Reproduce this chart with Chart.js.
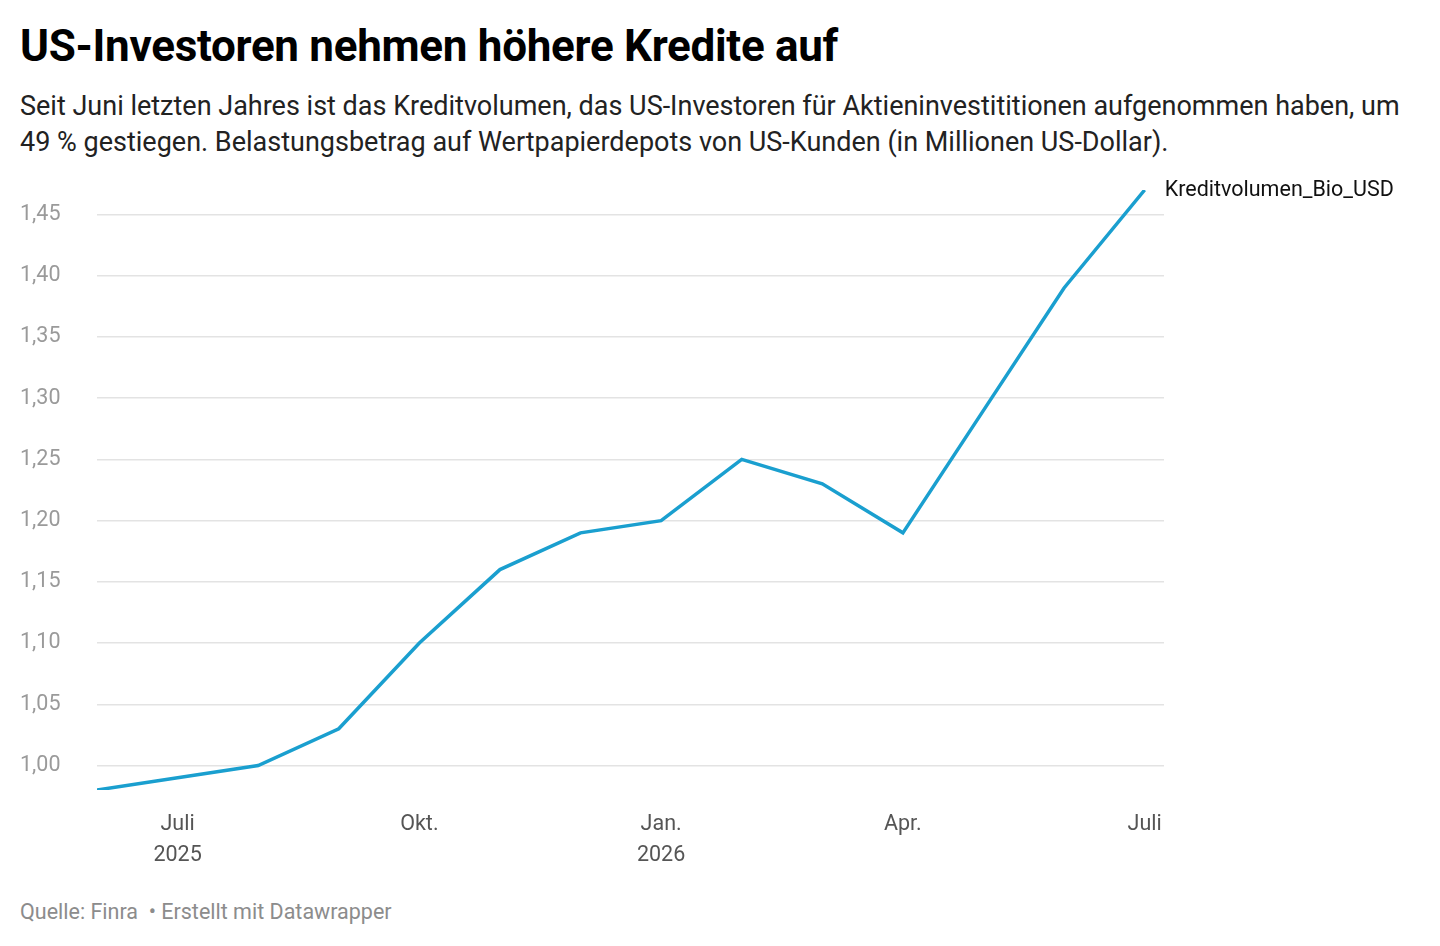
<!DOCTYPE html>
<html><head><meta charset="utf-8">
<script src="https://cdn.jsdelivr.net/npm/chart.js@4"></script>
<style>
body{margin:0;background:#fff;font-family:Roboto,sans-serif;width:1440px;height:946px;position:relative;overflow:hidden}
h1{position:absolute;left:20px;top:20px;margin:0;font-size:44px;font-weight:700;color:#000;letter-spacing:-0.3px}
.sub{position:absolute;left:20px;top:88px;font-size:27px;line-height:36px;color:#222;width:1395px}
.src{position:absolute;left:20px;top:899px;font-size:21.5px;color:#8c8c8c}
#wrap{position:absolute;left:0;top:170px;width:1440px;height:700px}
</style></head><body>
<h1>US-Investoren nehmen höhere Kredite auf</h1>
<div class="sub">Seit Juni letzten Jahres ist das Kreditvolumen, das US-Investoren für Aktieninvestititionen aufgenommen haben, um 49 % gestiegen. Belastungsbetrag auf Wertpapierdepots von US-Kunden (in Millionen US-Dollar).</div>
<div id="wrap"><canvas id="c"></canvas></div>
<div class="src">Quelle: Finra &nbsp;• Erstellt mit Datawrapper</div>
<script>
// Monate ab Juni 2025 (Index 0) bis Juli 2026 (Index 13)
const monate = [0,1,2,3,4,5,6,7,8,9,10,11,12,13];
const werte = [0.98,0.99,1.00,1.03,1.10,1.16,1.19,1.20,1.25,1.23,1.19,1.29,1.39,1.47];
const tickPos = [1,4,7,10,13];
const tickLabels = [["Juli","2025"],"Okt.",["Jan.","2026"],"Apr.","Juli"];
const serieName = "Kreditvolumen_Bio_USD";

const endLabel = {
  id: "endLabel",
  afterDatasetsDraw(chart) {
    const m = chart.getDatasetMeta(0).data;
    const p = m[m.length - 1];
    const ctx = chart.ctx;
    ctx.save();
    ctx.font = "21.5px Roboto";
    ctx.fillStyle = "#111";
    ctx.textBaseline = "middle";
    ctx.fillText(serieName, p.x + 20, p.y + 1);
    ctx.restore();
  }
};

new Chart(document.getElementById("c"), {
  type: "line",
  data: { datasets: [{ data: monate.map((m, i) => ({ x: m, y: werte[i] })), borderColor: "#1a9fcf", borderWidth: 3.5, pointRadius: 0, tension: 0 }] },
  options: {
    responsive: true, maintainAspectRatio: false, animation: false,
    layout: { padding: { top: 20, left: 20, right: 276, bottom: 0 } },
    plugins: { legend: { display: false }, tooltip: { enabled: false } },
    scales: {
      x: {
        type: "linear", min: 0, max: 13.24,
        afterBuildTicks: s => { s.ticks = tickPos.map(v => ({ value: v })); },
        afterFit: s => { s.height = 80; },
        grid: { display: false }, border: { display: false },
        ticks: { autoSkip: false, maxRotation: 0, padding: 12, color: "#555", font: { family: "Roboto", size: 21.5, lineHeight: 1.4 },
          callback: v => tickLabels[tickPos.indexOf(v)] }
      },
      y: {
        min: 0.98, max: 1.47,
        afterBuildTicks: s => { s.ticks = [1,1.05,1.1,1.15,1.2,1.25,1.3,1.35,1.4,1.45].map(v => ({ value: v })); },
        afterFit: s => { s.width = 77; },
        grid: { color: "#e3e3e3", lineWidth: 1.5, drawTicks: false }, border: { display: false },
        ticks: { crossAlign: "far", padding: 0, color: "#9a9a9a", font: { family: "Roboto", size: 21.5 },
          callback: v => v.toFixed(2).replace(".", ",") }
      }
    }
  },
  plugins: [endLabel]
});
</script>
</body></html>
